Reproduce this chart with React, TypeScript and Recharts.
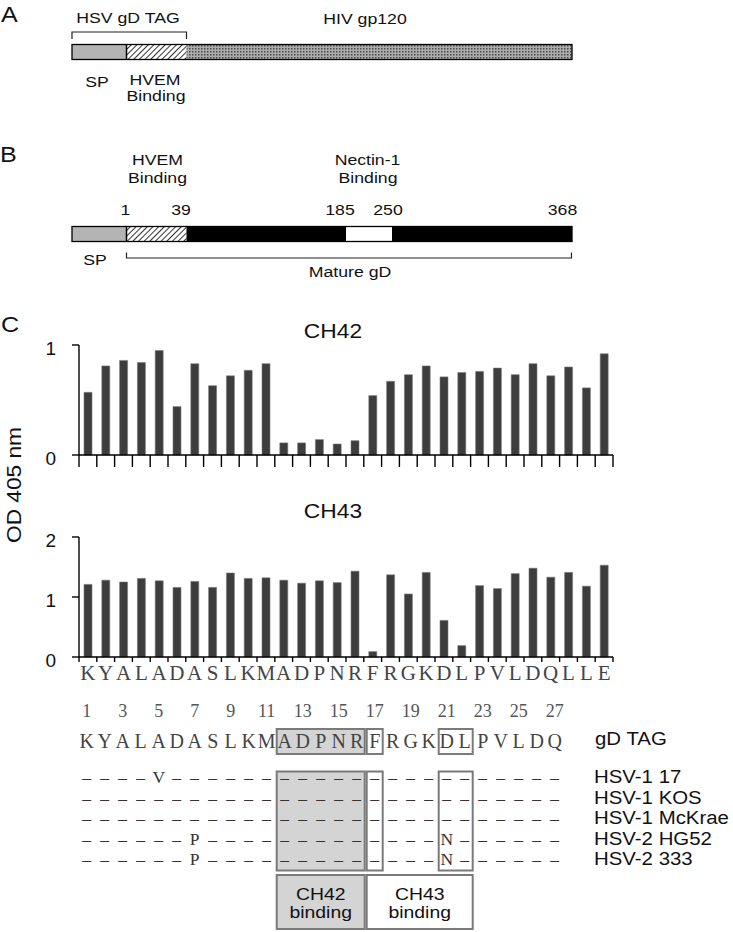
import React from "react";
import { BarChart, Bar, XAxis, YAxis } from "recharts";

// peptide scan, one bar per residue
const RESIDUES = ["K", "Y", "A", "L", "A", "D", "A", "S", "L", "K", "M", "A", "D", "P", "N", "R", "F", "R", "G", "K", "D", "L", "P", "V", "L", "D", "Q", "L", "L", "E"];
const CH42_OD = [0.57, 0.81, 0.86, 0.84, 0.95, 0.44, 0.83, 0.63, 0.72, 0.77, 0.83, 0.11, 0.11, 0.14, 0.1, 0.13, 0.54, 0.67, 0.73, 0.81, 0.71, 0.75, 0.76, 0.79, 0.73, 0.83, 0.72, 0.8, 0.61, 0.92];
const CH43_OD = [1.21, 1.28, 1.25, 1.31, 1.27, 1.16, 1.26, 1.16, 1.4, 1.31, 1.32, 1.28, 1.23, 1.27, 1.24, 1.43, 0.09, 1.37, 1.05, 1.41, 0.61, 0.19, 1.19, 1.14, 1.39, 1.48, 1.33, 1.41, 1.18, 1.53];
const CH42_TICKS = [0, 1];
const CH43_TICKS = [0, 1, 2];

// alignment
const TAG_SEQUENCE = ["K", "Y", "A", "L", "A", "D", "A", "S", "L", "K", "M", "A", "D", "P", "N", "R", "F", "R", "G", "K", "D", "L", "P", "V", "L", "D", "Q"];
const POSITION_TICKS = [1, 3, 5, 7, 9, 11, 13, 15, 17, 19, 21, 23, 25, 27];
const STRAINS = ["HSV-1 17", "HSV-1 KOS", "HSV-1 McKrae", "HSV-2 HG52", "HSV-2 333"];
const STRAIN_SUBS: [number, string][][] = [[[5, "V"]], [], [], [[7, "P"], [21, "N"]], [[7, "P"], [21, "N"]]];

const SANS = "'Liberation Sans', Arial, Helvetica, sans-serif";
const SERIF = "'Liberation Serif', 'Times New Roman', serif";

const PLOT_LEFT = 79;
const PLOT_W = 534;
const BAND = PLOT_W / RESIDUES.length;

const SEQ_X0 = 86.7;
const SEQ_STEP = 18;
const resX = (pos: number) => SEQ_X0 + (pos - 1) * SEQ_STEP;
const boxX = (from: number) => resX(from) - SEQ_STEP / 2 + 1;
const boxW = (from: number, to: number) => (to - from + 1) * SEQ_STEP - 2;

const chartData = RESIDUES.map((r, i) => ({ idx: i, res: r, ch42: CH42_OD[i], ch43: CH43_OD[i] }));

// the source figure is a little wider than tall, so text is stretched sideways
function T({ x, y, size, anchor = "start", sx = 1.14, fill = "#111", family = SANS, children }: any) {
  return (
    <text transform={`translate(${x},${y}) scale(${sx},1)`} fontSize={size} textAnchor={anchor} fontFamily={family} fill={fill}>
      {children}
    </text>
  );
}

function BoundaryTick(props: any) {
  const { x, y, index, tickLen, showLetter } = props;
  const last = index === RESIDUES.length - 1;
  return (
    <g>
      <line x1={x - BAND / 2} x2={x - BAND / 2} y1={y} y2={y + tickLen} stroke="#000" strokeWidth={1.4} />
      {last && <line x1={x + BAND / 2} x2={x + BAND / 2} y1={y} y2={y + tickLen} stroke="#000" strokeWidth={1.4} />}
      {showLetter && (
        <text x={x} y={y + 23} textAnchor="middle" fontFamily={SERIF} fontSize={21} fill="#444">
          {RESIDUES[index]}
        </text>
      )}
    </g>
  );
}

function ScanChart({ dataKey, ticks, height, top, plotH, tickLen, showLetter }: any) {
  return (
    <div style={{ position: "absolute", left: 0, top }}>
      <BarChart
        width={733}
        height={height}
        data={chartData}
        margin={{ top: 15, right: 733 - PLOT_LEFT - PLOT_W, left: 0, bottom: 0 }}
        barCategoryGap={0}
      >
        <XAxis
          dataKey="idx"
          interval={0}
          tickSize={0}
          tickMargin={0}
          tickLine={false}
          axisLine={{ stroke: "#000", strokeWidth: 1.4 }}
          height={height - 15 - plotH}
          tick={(p: any) => <BoundaryTick {...p} tickLen={tickLen} showLetter={showLetter} />}
        />
        <YAxis
          type="number"
          width={PLOT_LEFT}
          domain={[0, ticks[ticks.length - 1]]}
          ticks={ticks}
          interval={0}
          tickSize={7}
          tickMargin={16}
          tickLine={{ stroke: "#000", strokeWidth: 1.4 }}
          axisLine={{ stroke: "#000", strokeWidth: 1.4 }}
          tick={{ fill: "#111", fontSize: 19, fontFamily: SANS, dy: 3 }}
        />
        <Bar dataKey={dataKey} barSize={8} fill="#3d3d3d" stroke="#7a7a7a" strokeWidth={0.6} isAnimationActive={false} />
      </BarChart>
    </div>
  );
}

export default function App() {
  return (
    <div style={{ position: "absolute", left: 0, top: 0, width: 733, height: 932, background: "#fff" }}>
      <svg width={733} height={932} style={{ position: "absolute", left: 0, top: 0 }}>
        <defs>
          <pattern id="hatch" width="4" height="4" patternUnits="userSpaceOnUse" patternTransform="rotate(45)">
            <rect width="4" height="4" fill="#fff" />
            <line x1="0" y1="0" x2="0" y2="4" stroke="#000" strokeWidth="1.6" />
          </pattern>
          <pattern id="stipple" width="3" height="3" patternUnits="userSpaceOnUse">
            <rect width="3" height="3" fill="#acacac" />
            <rect width="1.5" height="1.5" fill="#4a4a4a" />
          </pattern>
        </defs>

        {/* A */}
        <T x={1} y={22} size={22}>A</T>
        <T x={128} y={23} size={15.5} anchor="middle">HSV gD TAG</T>
        <T x={365} y={24} size={15.5} anchor="middle">HIV gp120</T>
        <path d="M72,39 V32 H186.5 V39" fill="none" stroke="#222" strokeWidth={1.2} />
        <rect x={72} y={44.5} width={54.5} height={15} fill="#b4b4b4" />
        <rect x={126.5} y={44.5} width={60} height={15} fill="url(#hatch)" />
        <rect x={186.5} y={44.5} width={385.5} height={15} fill="url(#stipple)" />
        <line x1={126.5} x2={126.5} y1={44.5} y2={59.5} stroke="#000" strokeWidth={1.5} />
        <rect x={72} y={44.5} width={500} height={15} fill="none" stroke="#000" strokeWidth={1.3} />
        <T x={97} y={87} size={15.5} anchor="middle">SP</T>
        <T x={155} y={85} size={15.5} anchor="middle">HVEM</T>
        <T x={156} y={101} size={15.5} anchor="middle">Binding</T>

        {/* B */}
        <T x={0} y={162} size={22}>B</T>
        <T x={157.5} y={165} size={15.5} anchor="middle">HVEM</T>
        <T x={157.5} y={183} size={15.5} anchor="middle">Binding</T>
        <T x={367.5} y={165} size={15.5} anchor="middle">Nectin-1</T>
        <T x={368} y={183} size={15.5} anchor="middle">Binding</T>
        <T x={125.5} y={215} size={15.5} anchor="middle">1</T>
        <T x={181} y={215} size={15.5} anchor="middle">39</T>
        <T x={340} y={215} size={15.5} anchor="middle">185</T>
        <T x={388} y={215} size={15.5} anchor="middle">250</T>
        <T x={562.5} y={215} size={15.5} anchor="middle">368</T>
        <rect x={72} y={226.5} width={54.5} height={15} fill="#b4b4b4" />
        <rect x={126.5} y={226.5} width={60} height={15} fill="url(#hatch)" />
        <rect x={186.5} y={226.5} width={159.5} height={15} fill="#000" />
        <rect x={346} y={226.5} width={46} height={15} fill="#fff" />
        <rect x={392} y={226.5} width={180} height={15} fill="#000" />
        <line x1={126.5} x2={126.5} y1={226.5} y2={241.5} stroke="#000" strokeWidth={1.5} />
        <rect x={72} y={226.5} width={500} height={15} fill="none" stroke="#000" strokeWidth={1.3} />
        <T x={95} y={265} size={15.5} anchor="middle">SP</T>
        <path d="M126.5,252.5 V258 H571.5 V252.5" fill="none" stroke="#222" strokeWidth={1.2} />
        <T x={350} y={277} size={15.5} anchor="middle">Mature gD</T>

        {/* C */}
        <T x={1} y={332} size={22}>C</T>
        <T x={333} y={338} size={20} anchor="middle">CH42</T>
        <T x={333} y={518} size={20} anchor="middle">CH43</T>
        <text x={0} y={0} fontSize={21} fontFamily={SANS} fill="#111" textAnchor="middle" transform="translate(21,485) rotate(-90) scale(1.08,1)">
          OD 405 nm
        </text>

        {/* alignment boxes */}
        <rect x={boxX(12)} y={729} width={boxW(12, 16)} height={25} fill="#d4d4d4" stroke="#7a7a7a" strokeWidth={2} />
        <rect x={boxX(17)} y={729} width={boxW(17, 17)} height={25} fill="none" stroke="#7a7a7a" strokeWidth={2} />
        <rect x={boxX(21)} y={729} width={boxW(21, 22)} height={25} fill="none" stroke="#7a7a7a" strokeWidth={2} />
        <rect x={boxX(12)} y={771.5} width={boxW(12, 16)} height={99} fill="#d4d4d4" stroke="#7a7a7a" strokeWidth={2} />
        <rect x={boxX(17)} y={771.5} width={boxW(17, 17)} height={99} fill="none" stroke="#7a7a7a" strokeWidth={2} />
        <rect x={boxX(21)} y={771.5} width={boxW(21, 22)} height={99} fill="none" stroke="#7a7a7a" strokeWidth={2} />
        <rect x={boxX(12)} y={875} width={boxW(12, 16)} height={54} fill="#d4d4d4" stroke="#7a7a7a" strokeWidth={2} />
        <rect x={boxX(17)} y={875} width={boxW(17, 22)} height={54} fill="#fff" stroke="#7a7a7a" strokeWidth={2} />
        <T x={boxX(12) + boxW(12, 16) / 2} y={900} size={17} anchor="middle">CH42</T>
        <T x={boxX(12) + boxW(12, 16) / 2} y={918} size={17} anchor="middle">binding</T>
        <T x={boxX(17) + boxW(17, 22) / 2} y={900} size={17} anchor="middle">CH43</T>
        <T x={boxX(17) + boxW(17, 22) / 2} y={918} size={17} anchor="middle">binding</T>

        {/* alignment text */}
        {POSITION_TICKS.map((p) => (
          <text key={"n" + p} x={resX(p)} y={716.5} fontSize={18} textAnchor="middle" fontFamily={SERIF} fill="#555">
            {p}
          </text>
        ))}
        {TAG_SEQUENCE.map((aa, i) => (
          <text key={"s" + i} x={resX(i + 1)} y={748} fontSize={20} textAnchor="middle" fontFamily={SERIF} fill="#444">
            {aa}
          </text>
        ))}
        <T x={595} y={745} size={17.6} sx={1.16}>gD TAG</T>
        {STRAINS.map((name, row) => {
          const base = 783 + row * 20.5;
          const subs = new Map(STRAIN_SUBS[row]);
          return (
            <g key={name}>
              {TAG_SEQUENCE.map((_, i) => (
                <text key={i} x={resX(i + 1)} y={base} fontSize={17.5} textAnchor="middle" fontFamily={SERIF} fill="#333">
                  {subs.get(i + 1) ?? "–"}
                </text>
              ))}
              <T x={594} y={base} size={17.6} sx={1.16}>{name}</T>
            </g>
          );
        })}
      </svg>

      <ScanChart dataKey="ch42" ticks={CH42_TICKS} height={150} top={330} plotH={110} tickLen={12} showLetter={false} />
      <ScanChart dataKey="ch43" ticks={CH43_TICKS} height={170} top={521.7} plotH={120} tickLen={5} showLetter={true} />
    </div>
  );
}
